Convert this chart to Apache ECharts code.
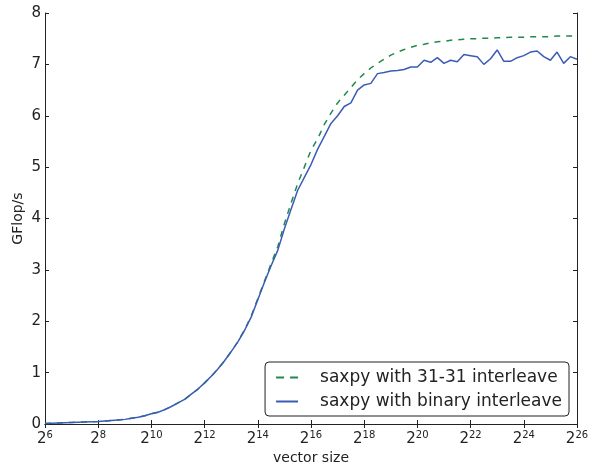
<!DOCTYPE html>
<html>
<head>
<meta charset="utf-8">
<script src="https://cdn.jsdelivr.net/npm/echarts@6/dist/echarts.min.js"></script>
<style>html,body{margin:0;padding:0;background:#fff;}#c{width:597px;height:465px;}</style>
</head>
<body>
<div id="c"></div>
<script>
// log2(vector size), 4 samples per octave
const log2Size = [];
for (let i = 0; i <= 80; i++) log2Size.push(6 + i * 0.25);

const binaryValues = [
  0.01,0.015,0.02,0.025,0.03,0.035,0.04,0.045,
  0.05,0.06,0.07,0.08,0.09,0.11,0.13,0.16,
  0.2,0.23,0.28,0.34,0.41,0.48,0.58,0.68,
  0.8,0.93,1.07,1.23,1.41,1.6,1.82,2.08,
  2.42,2.76,3.08,3.38,3.8,4.18,4.55,4.8,
  5.05,5.35,5.6,5.85,6.0,6.18,6.25,6.5,
  6.6,6.63,6.82,6.84,6.87,6.88,6.9,6.95,
  6.95,7.08,7.04,7.13,7.02,7.08,7.05,7.19,
  7.17,7.15,7.0,7.11,7.28,7.06,7.06,7.13,
  7.17,7.24,7.26,7.15,7.08,7.24,7.02,7.15,
  7.1
];
const interleave3131Values = [
  0.01,0.015,0.02,0.025,0.03,0.035,0.04,0.045,
  0.05,0.06,0.07,0.08,0.09,0.11,0.13,0.16,
  0.2,0.23,0.28,0.34,0.41,0.48,0.58,0.68,
  0.8,0.93,1.07,1.23,1.41,1.6,1.83,2.1,
  2.44,2.78,3.12,3.45,3.9,4.3,4.68,5.0,
  5.33,5.55,5.83,6.05,6.25,6.4,6.55,6.7,
  6.82,6.93,7.02,7.1,7.18,7.24,7.29,7.33,
  7.37,7.39,7.42,7.44,7.45,7.47,7.48,7.49,
  7.5,7.5,7.51,7.51,7.52,7.52,7.53,7.53,
  7.53,7.54,7.54,7.54,7.54,7.55,7.55,7.55,
  7.55
];
const seriesNames = ['saxpy with 31-31 interleave', 'saxpy with binary interleave'];
const xTickExponents = [6,8,10,12,14,16,18,20,22,24,26];
const yTicks = [0,1,2,3,4,5,6,7,8];

const pair = (vals) => log2Size.map((x, i) => [x, vals[i]]);
const axisColor = '#222';
const font = 'DejaVu Sans';

const chart = echarts.init(document.getElementById('c'), null, {renderer: 'canvas'});
chart.setOption({
  animation: false,
  backgroundColor: '#fff',
  textStyle: {fontFamily: font},
  grid: {left: 45, right: 20, top: 13, bottom: 41, containLabel: false, outerBoundsMode: 'none'},
  xAxis: [{
    type: 'value', min: 6, max: 26, interval: 2, position: 'bottom',
    name: 'vector size', nameLocation: 'middle', nameGap: 27, nameMoveOverlap: false,
    nameTextStyle: {fontSize: 14, color: axisColor, fontFamily: font},
    axisLine: {show: true, lineStyle: {color: axisColor, width: 1}},
    axisTick: {show: true, inside: true, length: 4, lineStyle: {color: axisColor}},
    splitLine: {show: false},
    axisLabel: {
      margin: 6,
      formatter: v => xTickExponents.includes(v) ? '{b|2}{s|' + v + '}' : '',
      rich: {
        b: {fontSize: 15, color: axisColor, fontFamily: font},
        s: {fontSize: 10, color: axisColor, fontFamily: font, padding: [0, 0, 9, 0]}
      }
    }
  }, {
    type: 'value', min: 6, max: 26, interval: 2, position: 'top',
    axisLine: {show: true, lineStyle: {color: axisColor, width: 1}},
    axisTick: {show: true, inside: true, length: 4, lineStyle: {color: axisColor}},
    axisLabel: {show: false}, splitLine: {show: false}
  }],
  yAxis: [{
    type: 'value', min: 0, max: 8, interval: 1, position: 'left',
    name: 'GFlop/s', nameLocation: 'middle', nameGap: 20, nameRotate: 90, nameMoveOverlap: false,
    nameTextStyle: {fontSize: 14, color: axisColor, fontFamily: font},
    axisLine: {show: true, lineStyle: {color: axisColor, width: 1}},
    axisTick: {show: true, inside: true, length: 4, lineStyle: {color: axisColor}},
    splitLine: {show: false},
    axisLabel: {
      margin: 4, fontSize: 15, color: axisColor, fontFamily: font,
      formatter: v => yTicks.includes(v) ? String(v) : ''
    }
  }, {
    type: 'value', min: 0, max: 8, interval: 1, position: 'right',
    axisLine: {show: true, lineStyle: {color: axisColor, width: 1}},
    axisTick: {show: true, inside: true, length: 4, lineStyle: {color: axisColor}},
    axisLabel: {show: false}, splitLine: {show: false}
  }],
  legend: {
    orient: 'vertical',
    right: 28, bottom: 49,
    backgroundColor: '#fff',
    borderColor: axisColor, borderWidth: 1, borderRadius: 4,
    padding: [7, 7, 6, 11],
    itemWidth: 22, itemHeight: 2, itemGap: 7,
    textStyle: {fontSize: 17, color: axisColor, fontFamily: font, padding: [0, 0, 0, 17]},
    data: [
      {name: seriesNames[0], icon: 'path://M0,0h8v2h-8z M14,0h8v2h-8z'},
      {name: seriesNames[1], icon: 'path://M0,0h22v2h-22z'}
    ]
  },
  series: [{
    name: seriesNames[0], type: 'line', data: pair(interleave3131Values),
    showSymbol: false, symbol: 'none', smooth: false,
    lineStyle: {color: '#1f8a4c', width: 1.5, type: [6, 6]},
    itemStyle: {color: '#1f8a4c'}
  }, {
    name: seriesNames[1], type: 'line', data: pair(binaryValues),
    showSymbol: false, symbol: 'none', smooth: false,
    lineStyle: {color: '#3a5cb4', width: 1.5},
    itemStyle: {color: '#3a5cb4'}
  }]
});
</script>
</body>
</html>
